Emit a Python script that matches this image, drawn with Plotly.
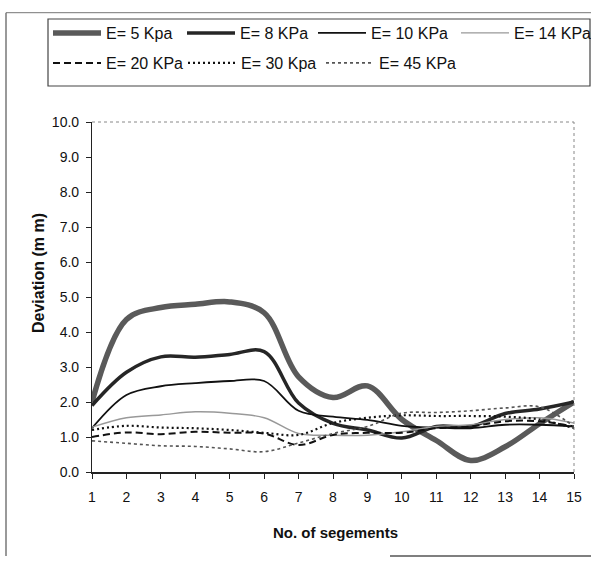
import plotly.graph_objects as go

W, H = 591, 566

segments = list(range(1, 16))
e5 = [2.0, 4.36, 4.70, 4.79, 4.86, 4.55, 2.72, 2.13, 2.46, 1.5, 0.9, 0.33, 0.72, 1.38, 2.0]
e8 = [1.9, 2.85, 3.29, 3.28, 3.36, 3.44, 1.97, 1.39, 1.2, 0.97, 1.3, 1.3, 1.67, 1.8, 2.0]
e10 = [1.25, 2.2, 2.45, 2.54, 2.6, 2.6, 1.75, 1.58, 1.49, 1.32, 1.27, 1.25, 1.35, 1.35, 1.3]
e14 = [1.28, 1.55, 1.63, 1.72, 1.68, 1.55, 1.1, 1.05, 1.05, 1.15, 1.3, 1.35, 1.5, 1.55, 1.4]
e20 = [1.0, 1.13, 1.08, 1.15, 1.12, 1.1, 0.77, 1.06, 1.12, 1.12, 1.25, 1.3, 1.45, 1.45, 1.3]
e30 = [1.2, 1.32, 1.27, 1.25, 1.2, 1.12, 1.06, 1.4, 1.55, 1.62, 1.6, 1.6, 1.58, 1.5, 1.25]
e45 = [0.89, 0.82, 0.75, 0.73, 0.66, 0.58, 0.83, 1.1, 1.3, 1.68, 1.7, 1.75, 1.83, 1.86, 1.3]

series_names = ["E= 5 Kpa", "E= 8 KPa", "E= 10 KPa", "E= 14 KPa",
                "E= 20 KPa", "E= 30 Kpa", "E= 45 KPa"]
series_values = [e5, e8, e10, e14, e20, e30, e45]
y_tick_vals = [0, 1, 2, 3, 4, 5, 6, 7, 8, 9, 10]
x_title = "No. of segements"
y_title = "Deviation (m m)"

styles = [
    dict(color="#5a5a5a", width=5.5, dash="solid"),
    dict(color="#262626", width=3.5, dash="solid"),
    dict(color="#111111", width=1.8, dash="solid"),
    dict(color="#999999", width=1.4, dash="solid"),
    dict(color="#111111", width=2.0, dash="7px,4px"),
    dict(color="#111111", width=2.2, dash="2px,3px"),
    dict(color="#555555", width=1.6, dash="dot"),
]

# legend placement (pixels in the page): (sample start x, row centre y)
legend_pos = [(53, 33), (187, 33), (318, 33), (461, 33),
              (53, 63), (188, 63), (326, 63)]

L, R, T, B = 92, 574, 122, 472
PW, PH = R - L, B - T


def px_x(px):
    return (px - L) / PW


def px_y(py):
    return (B - py) / PH


fig = go.Figure()
for i, (name, vals, st) in enumerate(zip(series_names, series_values, styles)):
    lg = "legend" if i == 0 else f"legend{i+1}"
    fig.add_trace(go.Scatter(
        x=segments, y=vals, name=name, mode="lines",
        line=dict(shape="spline", smoothing=1.0, **st),
        legend=lg,
    ))

font_family = "Liberation Sans, Arial, sans-serif"
layout_legends = {}
for i, (px, py) in enumerate(legend_pos):
    key = "legend" if i == 0 else f"legend{i+1}"
    layout_legends[key] = dict(
        x=px_x(px - 5), y=px_y(py), xref="paper", yref="paper",
        xanchor="left", yanchor="middle", bgcolor="rgba(0,0,0,0)",
        borderwidth=0, font=dict(family=font_family, size=16, color="#111"),
        itemwidth=48,
    )

fig.update_layout(
    width=W, height=H,
    margin=dict(l=L, r=W - R, t=T, b=H - B, pad=0, autoexpand=False),
    paper_bgcolor="white", plot_bgcolor="white",
    showlegend=True,
    font=dict(family=font_family, color="#111"),
    **layout_legends,
)
fig.update_xaxes(
    range=[1, 15], tickmode="array", tickvals=segments,
    ticks="outside", ticklen=5, tickcolor="#222", tickwidth=1,
    showline=True, linecolor="#222", linewidth=1.5, showgrid=False, zeroline=False,
    tickfont=dict(size=14, family=font_family, color="#111"), ticklabelstandoff=6,
)
fig.update_yaxes(
    range=[0, 10], tickmode="array", tickvals=y_tick_vals, tickformat=".1f",
    ticks="outside", ticklen=5, tickcolor="#222", tickwidth=1,
    showline=True, linecolor="#222", linewidth=1.2, showgrid=False, zeroline=False,
    tickfont=dict(size=14, family=font_family, color="#111"), ticklabelstandoff=4,
)

shapes = [
    # plot area top & right border (light dotted)
    dict(type="line", xref="paper", yref="paper", x0=0, x1=1, y0=1, y1=1,
         line=dict(color="#888", width=1, dash="dot")),
    dict(type="line", xref="paper", yref="paper", x0=1, x1=1, y0=0, y1=1,
         line=dict(color="#888", width=1, dash="dot")),
    # outer frame
    dict(type="line", xref="paper", yref="paper",
         x0=px_x(6), x1=px_x(6), y0=px_y(556), y1=px_y(12.7),
         line=dict(color="#555", width=1.2)),
    dict(type="line", xref="paper", yref="paper",
         x0=px_x(6), x1=px_x(591), y0=px_y(12.7), y1=px_y(12.7),
         line=dict(color="#777", width=1)),
    dict(type="line", xref="paper", yref="paper",
         x0=px_x(390), x1=px_x(591), y0=px_y(556), y1=px_y(556),
         line=dict(color="#555", width=1.5)),
    # legend box
    dict(type="rect", xref="paper", yref="paper",
         x0=px_x(48), x1=px_x(590), y0=px_y(86), y1=px_y(19),
         line=dict(color="#444", width=1.2), fillcolor="rgba(0,0,0,0)"),
]

annotations = [
    dict(text=f"<b>{y_title}</b>", xref="paper", yref="paper",
         x=px_x(38), y=px_y(273), textangle=-90,
         showarrow=False, xanchor="center", yanchor="middle",
         font=dict(size=16, family=font_family, color="#111")),
    dict(text=f"<b>{x_title}</b>", xref="paper", yref="paper",
         x=px_x(335), y=px_y(532),
         showarrow=False, xanchor="center", yanchor="middle",
         font=dict(size=15, family=font_family, color="#111")),
]
fig.update_layout(shapes=shapes, annotations=annotations)

fig.write_html("out.html")
